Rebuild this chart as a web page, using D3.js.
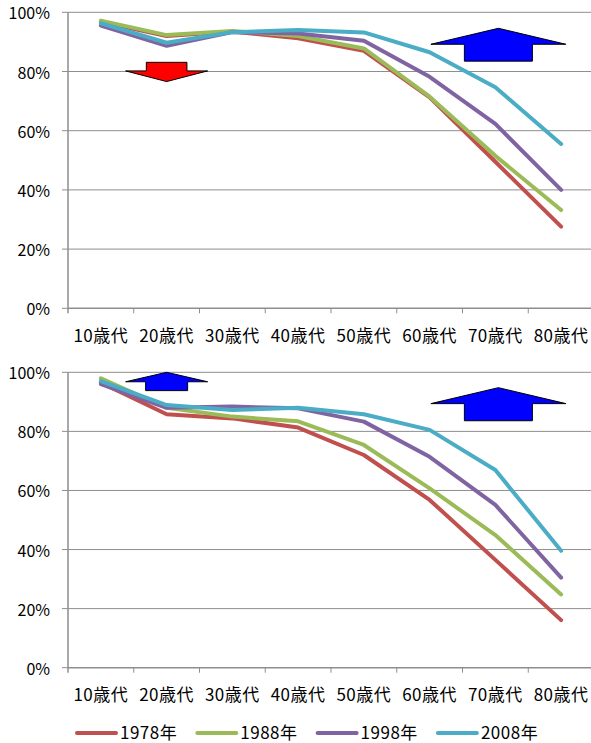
<!DOCTYPE html>
<html>
<head>
  <meta charset="UTF-8">
  <title>年代別 推移</title>
  <script src="https://d3js.org/d3.v7.min.js"></script>
  <style>
    body { margin: 0; background: #fff; }
    text { font-family: "Noto Sans CJK JP", "Noto Sans", sans-serif; fill: #000; }
  </style>
</head>
<body>
<div id="chart"></div>
<script>
// categories and series
const ages = ["10歳代", "20歳代", "30歳代", "40歳代", "50歳代", "60歳代", "70歳代", "80歳代"];
const years = ["1978年", "1988年", "1998年", "2008年"];
const yTicks = [0, 20, 40, 60, 80, 100];

// upper chart (%)
const top1978 = [96.8, 92.0, 93.5, 91.2, 87.0, 71.3, 49.5, 27.6];
const top1988 = [97.2, 92.3, 93.7, 92.0, 87.8, 71.5, 51.5, 33.2];
const top1998 = [95.5, 88.7, 93.3, 92.8, 90.4, 78.2, 62.3, 40.0];
const top2008 = [96.3, 89.7, 93.3, 94.0, 93.2, 86.5, 74.7, 55.5];

// lower chart (%)
const bot1978 = [96.5, 85.8, 84.4, 81.3, 72.0, 56.8, 36.5, 16.1];
const bot1988 = [98.0, 88.0, 85.0, 83.4, 75.4, 60.7, 44.9, 24.8];
const bot1998 = [96.0, 88.0, 88.4, 87.8, 83.3, 71.4, 55.1, 30.5];
const bot2008 = [97.0, 88.9, 87.2, 88.0, 85.8, 80.5, 66.9, 39.6];

const colors = ["#C0504D", "#9BBB59", "#8064A2", "#4BACC6"];

const W = 591, H = 743;
const svg = d3.select("#chart").append("svg")
  .attr("width", W).attr("height", H);

const x = d3.scaleBand().domain(ages).range([68, 594]).padding(0);
const cx = c => x(c) + x.bandwidth() / 2;

function drawChart(series, y) {
  const g = svg.append("g");

  // gridlines
  g.selectAll(".grid").data(yTicks.filter(t => t > 0)).enter()
    .append("line")
    .attr("x1", 68).attr("x2", 594)
    .attr("y1", d => y(d)).attr("y2", d => y(d))
    .attr("stroke", "#8e8e8e").attr("stroke-width", 1);

  // y axis
  g.append("line")
    .attr("x1", 68).attr("x2", 68)
    .attr("y1", y(100)).attr("y2", y(0) + 5)
    .attr("stroke", "#8e8e8e").attr("stroke-width", 1.5);
  g.selectAll(".ytick").data(yTicks).enter()
    .append("line")
    .attr("x1", 62).attr("x2", 68)
    .attr("y1", d => y(d)).attr("y2", d => y(d))
    .attr("stroke", "#8e8e8e").attr("stroke-width", 1);
  g.selectAll(".ylab").data(yTicks).enter()
    .append("text")
    .attr("x", 50).attr("y", d => y(d))
    .attr("text-anchor", "end")
    .attr("dominant-baseline", "central")
    .style("font-size", "16px")
    .text(d => d + "%");

  // x axis
  g.append("line")
    .attr("x1", 68).attr("x2", 594)
    .attr("y1", y(0)).attr("y2", y(0))
    .attr("stroke", "#8e8e8e").attr("stroke-width", 1.5);
  g.selectAll(".xtick").data(ages.slice(1)).enter()
    .append("line")
    .attr("x1", d => x(d)).attr("x2", d => x(d))
    .attr("y1", y(0)).attr("y2", y(0) + 5)
    .attr("stroke", "#8e8e8e").attr("stroke-width", 1);
  g.selectAll(".xlab").data(ages).enter()
    .append("text")
    .attr("x", d => cx(d)).attr("y", y(0) + 26)
    .attr("text-anchor", "middle")
    .attr("dominant-baseline", "central")
    .style("font-size", "17px")
    .style("letter-spacing", "0.5px")
    .text(d => d);

  // lines
  const line = d3.line()
    .x((d, i) => cx(ages[i]))
    .y(d => y(d));
  series.forEach((s, k) => {
    g.append("path")
      .datum(s)
      .attr("d", line)
      .attr("fill", "none")
      .attr("stroke", colors[k])
      .attr("stroke-width", 4)
      .attr("stroke-linejoin", "round")
      .attr("stroke-linecap", "round");
  });
  return g;
}

// block arrow: base of stem, wing line, tip (all in %)
function arrow(g, y, xc, base, wing, tip, halfW, halfR, fill) {
  const p = d3.path();
  p.moveTo(xc - halfR, y(base));
  p.lineTo(xc - halfR, y(wing));
  p.lineTo(xc - halfW, y(wing));
  p.lineTo(xc, y(tip));
  p.lineTo(xc + halfW, y(wing));
  p.lineTo(xc + halfR, y(wing));
  p.lineTo(xc + halfR, y(base));
  p.closePath();
  g.append("path").attr("d", p.toString())
    .attr("fill", fill).attr("stroke", "#000").attr("stroke-width", 1);
}

const yTop = d3.scaleLinear().domain([0, 100]).range([308.3, 12.3]);
const yBot = d3.scaleLinear().domain([0, 100]).range([667.7, 372.3]);

const gTop = drawChart([top1978, top1988, top1998, top2008], yTop);
arrow(gTop, yTop, cx("20歳代"), 83.1, 80.2, 76.6, 41, 20.3, "#FF0000");
arrow(gTop, yTop, cx("70歳代") + 3, 83.5, 89.2, 94.6, 67.5, 34, "#0000FF");

const gBot = drawChart([bot1978, bot1988, bot1998, bot2008], yBot);
arrow(gBot, yBot, cx("20歳代"), 93.8, 96.8, 100, 41, 21, "#0000FF");
arrow(gBot, yBot, cx("70歳代") + 3, 83.6, 89.4, 94.8, 67.5, 34, "#0000FF");

// legend
const legend = svg.append("g").attr("transform", "translate(77,731)");
const item = legend.selectAll(".item").data(years).enter()
  .append("g")
  .attr("transform", (d, i) => "translate(" + (i * 120.3) + ",0)");
item.append("line")
  .attr("x1", 0).attr("x2", 39).attr("y1", 2).attr("y2", 2)
  .attr("stroke", (d, i) => colors[i])
  .attr("stroke-width", 4)
  .attr("stroke-linecap", "round");
item.append("text")
  .attr("x", 43).attr("y", 0)
  .attr("dominant-baseline", "central")
  .style("font-size", "17px")
  .style("letter-spacing", "0.5px")
  .text(d => d);
</script>
</body>
</html>
